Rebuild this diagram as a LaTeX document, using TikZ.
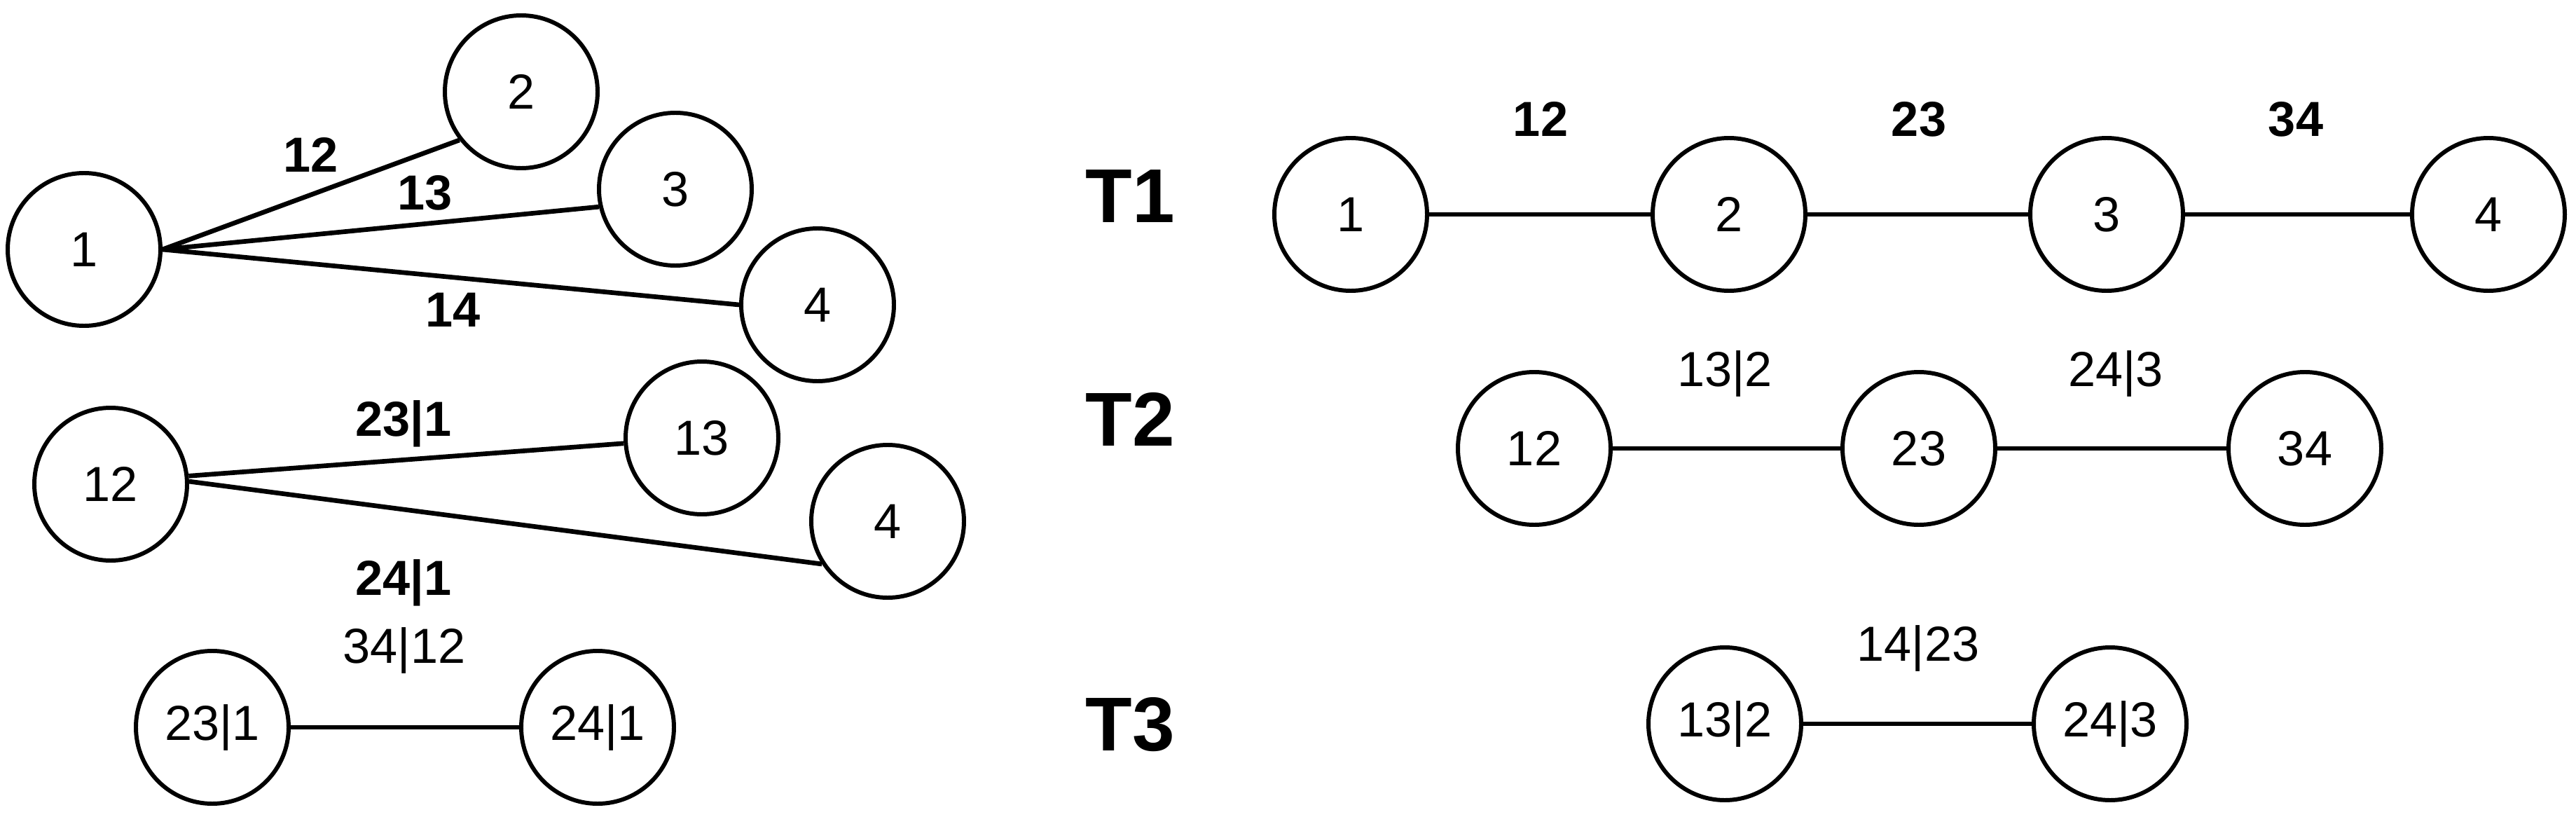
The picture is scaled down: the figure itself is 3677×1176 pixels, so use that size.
\documentclass[tikz,border=0pt]{standalone}
\usepackage{fontspec}
\setmainfont{Liberation Sans}
\usetikzlibrary{arrows,arrows.meta}

\begin{document}
\begin{tikzpicture}[x=0.05mm,y=-0.05mm,line width=0.95pt,
   vert/.style={circle,draw,line width=0.85pt,minimum size=10.9mm,inner sep=0pt,font=\fontsize{10}{12}\selectfont},
   blab/.style={font=\fontsize{10}{12}\selectfont\bfseries},
   lab/.style={font=\fontsize{10}{12}\selectfont},
   tlab/.style={font=\fontsize{15.5}{18}\selectfont\bfseries}]
   \useasboundingbox (0,0) rectangle (3677,1176);

   % left side
   \node[vert] (A) at (120,356)  {1};
   \node[vert] (B) at (744,131)  {2};
   \node[vert] (C) at (964,270)  {3};
   \node[vert] (D) at (1167,435) {4};
   \draw (A.east) -- (B.218);
   \draw (A.east) -- (C.193);
   \draw (A.east) -- (D.west);
   \node[blab] (lAB) at (444,221) {12};
   \node[blab] (lAC) at (607,275) {13};
   \node[blab] (lAD) at (647,442) {14};

   \node[vert] (AB) at (158,691)  {12};
   \node[vert] (AC) at (1002,625) {13};
   \node[vert] (DD) at (1267,744) {4};
   \draw (AB.6) -- (AC.184);
   \draw (AB.2) -- (DD.213);
   \node[blab] (lBC) at (576,605) {23|1};
   \node[blab] (lBD) at (576,832) {24|1};

   \node[lab] (lCD) at (577,928) {34|12};
   \node[vert] (BC) at (303,1038) {23|1};
   \node[vert] (BD) at (853,1038) {24|1};
   \draw (BC) -- (BD);

   % trees
   \node[tlab] (T1) at (1613,280)  {T1};
   \node[tlab] (T2) at (1613,598)  {T2};
   \node[tlab] (T3) at (1613,1034) {T3};

   \node[vert] (a1) at (1928,306) {1};
   \node[vert] (a2) at (2468,306) {2};
   \node[vert] (a3) at (3007,306) {3};
   \node[vert] (a4) at (3552,306) {4};
   \draw (a1) -- (a2) -- (a3) -- (a4);
   \node[blab] (la12) at (2199,170) {12};
   \node[blab] (la23) at (2739,170) {23};
   \node[blab] (la34) at (3277,170) {34};

   \node[vert] (b1) at (2190,640) {12};
   \node[vert] (b2) at (2739,640) {23};
   \node[vert] (b3) at (3290,640) {34};
   \draw (b1) -- (b2) -- (b3);
   \node[lab] (lb12) at (2462,533) {13|2};
   \node[lab] (lb23) at (3020,533) {24|3};

   \node[vert] (c1) at (2462,1033) {13|2};
   \node[vert] (c2) at (3012,1033) {24|3};
   \draw (c1) -- (c2);
   \node[lab] (lc12) at (2738,925) {14|23};
\end{tikzpicture}
\end{document}
